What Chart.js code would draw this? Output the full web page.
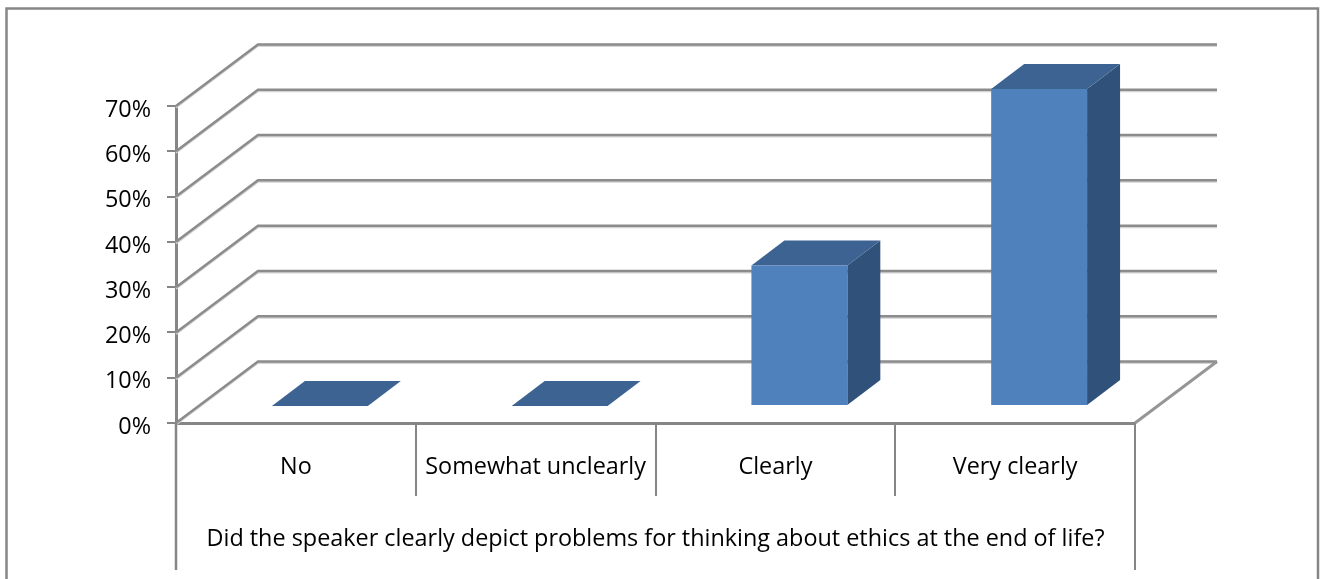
<!DOCTYPE html>
<html>
<head>
<meta charset="utf-8">
<title>Did the speaker clearly depict problems</title>
<script src="https://cdn.jsdelivr.net/npm/chart.js@4"></script>
<style>
    html, body { margin: 0; padding: 0; background: #fff; overflow: hidden; }
    canvas { display: block; }
</style>
</head>
<body>
<canvas id="chart" width="1320" height="579"></canvas>
<script>
"use strict";

// Chart data
const categories = ['No', 'Somewhat unclearly', 'Clearly', 'Very clearly'];
const percentages = [0, 0, 31, 70];
const axisTitle = 'Did the speaker clearly depict problems for thinking about ethics at the end of life?';

const lineColor = '#868686';
const labelFont = { family: 'Open Sans', size: 23.4 };

// Fake 3D: how far the back wall and the bars sit from the front plane
const wall = { dx: 82, dy: -61.5 };
const barShift = { dx: 24, dy: -17 };
const barDepth = { dx: 33, dy: -25 };

function strokeLine(ctx, points, width, color) {
    ctx.beginPath();
    points.forEach((p, i) => i ? ctx.lineTo(p[0], p[1]) : ctx.moveTo(p[0], p[1]));
    ctx.lineWidth = width;
    ctx.strokeStyle = color;
    ctx.stroke();
}

function fillShape(ctx, points, color) {
    ctx.beginPath();
    points.forEach((p, i) => i ? ctx.lineTo(p[0], p[1]) : ctx.moveTo(p[0], p[1]));
    ctx.closePath();
    ctx.fillStyle = color;
    ctx.fill();
}

const frame3d = {
    id: 'frame3d',
    afterLayout(chart) {
        // y labels sit a little under their tick marks
        chart.scales.y.getLabelItems().forEach(item => { item.textOffset += 4; });
    },
    beforeDraw(chart) {
        // outer chart frame, runs off the bottom of the picture
        const ctx = chart.ctx;
        ctx.save();
        fillShape(ctx, [[0, 0], [1320, 0], [1320, 579], [0, 579]], '#ffffff');
        strokeLine(ctx, [[6.5, 579], [6.5, 8.5], [1318, 8.5], [1318, 579]], 2.5, lineColor);
        ctx.restore();
    },
    beforeDatasetsDraw(chart) {
        const ctx = chart.ctx;
        const { left, right, bottom } = chart.chartArea;
        const yScale = chart.scales.y;
        ctx.save();
        // side wall and back wall grid lines
        yScale.ticks.forEach(tick => {
            const y = yScale.getPixelForValue(tick.value);
            const path = [[left, y], [left + wall.dx, y + wall.dy], [right + wall.dx, y + wall.dy]];
            strokeLine(ctx, path.map(p => [p[0], p[1] + 1.5]), 2, '#d4d4d4');
            strokeLine(ctx, path, 2.5, '#8c8c8c');
        });
        // right edge of the floor
        strokeLine(ctx, [[right, bottom], [right + wall.dx, bottom + wall.dy]], 3, '#969696');
        // outer separators of the category table go down further than the inner ones
        strokeLine(ctx, [[left, bottom], [left, 570]], 2.5, lineColor);
        strokeLine(ctx, [[right, bottom], [right, 570]], 2, lineColor);
        ctx.restore();
    },
    beforeDatasetDraw(chart, args) {
        const ctx = chart.ctx;
        ctx.save();
        ctx.translate(barShift.dx, barShift.dy);
        args.meta.data.forEach(bar => {
            const l = bar.x - bar.width / 2;
            const r = bar.x + bar.width / 2;
            const d = barDepth;
            fillShape(ctx, [[r, bar.y], [r + d.dx, bar.y + d.dy], [r + d.dx, bar.base + d.dy], [r, bar.base]], '#30527a');
            fillShape(ctx, [[l, bar.y], [l + d.dx, bar.y + d.dy], [r + d.dx, bar.y + d.dy], [r, bar.y]], '#3c6391');
        });
    },
    afterDatasetDraw(chart) {
        chart.ctx.restore();
    }
};

new Chart(document.getElementById('chart'), {
    type: 'bar',
    data: {
        labels: categories,
        datasets: [{
            data: percentages,
            backgroundColor: '#4f81bd',
            categoryPercentage: 1,
            barPercentage: 0.4,
            clip: false
        }]
    },
    options: {
        responsive: false,
        animation: false,
        layout: { padding: { top: 106, right: 185, left: 0, bottom: 0 } },
        plugins: { legend: { display: false }, tooltip: { enabled: false } },
        scales: {
            x: {
                afterFit: scale => { scale.height = 156; },
                border: { color: lineColor, width: 3 },
                grid: { drawOnChartArea: false, color: lineColor, lineWidth: 2, tickLength: 73 },
                ticks: {
                    color: '#000',
                    font: labelFont,
                    padding: -43,
                    autoSkip: false,
                    maxRotation: 0
                },
                title: {
                    display: true,
                    text: axisTitle,
                    color: '#000',
                    font: labelFont,
                    padding: { top: 0, bottom: 26 }
                }
            },
            y: {
                min: 0,
                max: 70,
                afterFit: scale => { scale.width = 176; },
                border: { color: lineColor, width: 3 },
                grid: { drawOnChartArea: false, color: lineColor, lineWidth: 2, tickLength: 9 },
                ticks: {
                    stepSize: 10,
                    color: '#000',
                    font: labelFont,
                    padding: 16,
                    callback: value => value + '%'
                }
            }
        }
    },
    plugins: [frame3d]
});
</script>
</body>
</html>
